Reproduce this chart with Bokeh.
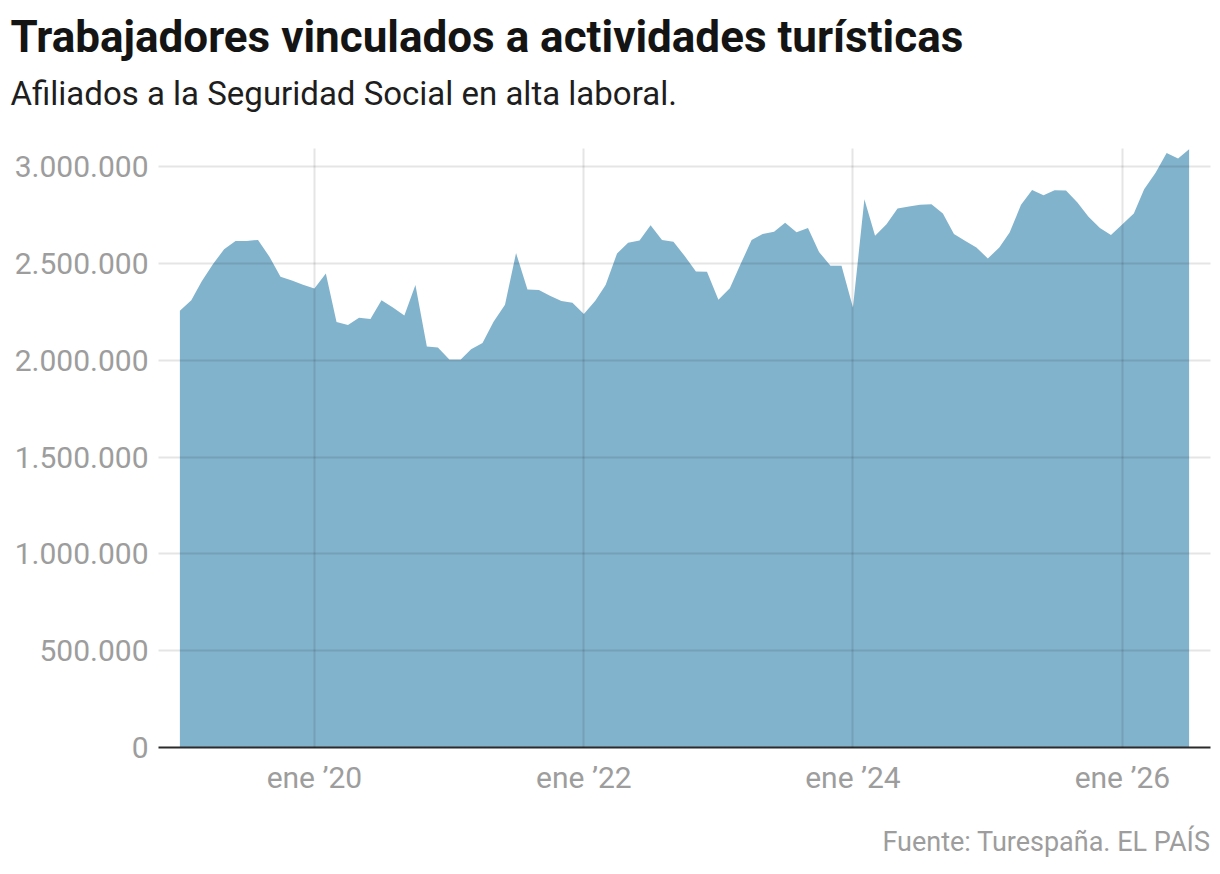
import pandas as pd
from bokeh.plotting import figure
from bokeh.models import ColumnDataSource, FixedTicker, Range1d, Title
from bokeh.embed import file_html
from bokeh.resources import INLINE

titulo = "Trabajadores vinculados a actividades turísticas"
subtitulo = "Afiliados a la Seguridad Social en alta laboral."
fuente = "Fuente: Turespaña. EL PAÍS"

# afiliados en alta laboral, mensual, de enero 2019 a julio 2026
afiliados_2019 = [2255000, 2310000, 2406000, 2496000, 2573000, 2616000,
                  2615000, 2621000, 2534000, 2431000, 2412000, 2389000]
afiliados_2020 = [2370000, 2448000, 2197000, 2182000, 2219000, 2212000,
                  2310000, 2272000, 2231000, 2388000, 2070000, 2065000]
afiliados_2021 = [2004000, 2003000, 2056000, 2089000, 2199000, 2286000,
                  2553000, 2365000, 2362000, 2333000, 2305000, 2297000]
afiliados_2022 = [2238000, 2307000, 2388000, 2551000, 2606000, 2618000,
                  2697000, 2621000, 2612000, 2539000, 2458000, 2456000]
afiliados_2023 = [2312000, 2372000, 2491000, 2620000, 2651000, 2663000,
                  2709000, 2661000, 2682000, 2559000, 2487000, 2487000]
afiliados_2024 = [2272000, 2831000, 2642000, 2702000, 2783000, 2793000,
                  2802000, 2805000, 2757000, 2651000, 2616000, 2582000]
afiliados_2025 = [2525000, 2582000, 2659000, 2802000, 2879000, 2852000,
                  2877000, 2876000, 2814000, 2740000, 2682000, 2646000]
afiliados_2026 = [2702000, 2757000, 2883000, 2968000, 3070000, 3042000, 3089000]

afiliados = (afiliados_2019 + afiliados_2020 + afiliados_2021 + afiliados_2022
             + afiliados_2023 + afiliados_2024 + afiliados_2025 + afiliados_2026)
meses = pd.date_range("2019-01-01", periods=len(afiliados), freq="MS")

y_ticks = [0, 500000, 1000000, 1500000, 2000000, 2500000, 3000000]
x_ticks = ["2020-01-01", "2022-01-01", "2024-01-01", "2026-01-01"]
x_labels = ["ene ’20", "ene ’22", "ene ’24", "ene ’26"]

GRIS = "#9d9d9d"
FUENTE = "Roboto"
W, H = 1212, 866

source = ColumnDataSource(data=dict(mes=meses, afiliados=afiliados))

pad = pd.Timedelta(days=58)
p = figure(width=W, height=H, x_axis_type="datetime", title=None,
           x_range=Range1d(meses[0] - pad, meses[-1] + pad),
           y_range=Range1d(0, 3093000),
           output_backend="svg", toolbar_location=None,
           min_border_left=158, min_border_right=2,
           min_border_top=148, min_border_bottom=119)
p.outline_line_color = None

p.varea(x="mes", y1=0, y2="afiliados", source=source,
        fill_color="#82b3cd", fill_alpha=1.0)

# ejes
x_ms = [pd.Timestamp(t).timestamp() * 1000 for t in x_ticks]
p.xaxis.ticker = FixedTicker(ticks=x_ms)
p.xaxis.major_label_overrides = dict(zip(x_ms, x_labels))
p.yaxis.ticker = FixedTicker(ticks=y_ticks)
p.yaxis.major_label_overrides = {v: f"{v:,}".replace(",", ".") for v in y_ticks}

for ax in (p.xaxis, p.yaxis):
    ax.major_tick_line_color = None
    ax.minor_tick_line_color = None
    ax.major_label_text_font = FUENTE
    ax.major_label_text_font_size = "30px"
    ax.major_label_text_color = GRIS
p.yaxis.axis_line_color = None
p.yaxis.major_label_standoff = 4
p.xaxis.axis_line_color = "#2b2b2b"
p.xaxis.axis_line_width = 2
p.xaxis.major_label_standoff = 6


for g in (p.xgrid, p.ygrid):
    g.grid_line_color = "black"
    g.grid_line_alpha = 0.1
    g.grid_line_width = 2
    g.level = "annotation"


def espacio(alto):
    # título vacío que sólo sirve de separación
    return Title(text=" ", text_font_size="1px", standoff=alto)


# textos: el primero añadido queda más cerca del gráfico
p.add_layout(espacio(31), "above")
p.add_layout(Title(text=subtitulo, align="left", offset=-148, standoff=4,
                   text_font=FUENTE, text_font_size="33px", text_font_style="normal",
                   text_color="#1e1e1e"), "above")
p.add_layout(Title(text=titulo, align="left", offset=-148, standoff=14,
                   text_font=FUENTE, text_font_size="44px", text_font_style="bold",
                   text_color="#141414"), "above")

p.add_layout(espacio(23), "below")
p.add_layout(Title(text=fuente, align="right", standoff=0,
                   text_font=FUENTE, text_font_size="27px", text_font_style="normal",
                   text_color=GRIS), "below")

open("out.html", "w").write(file_html(p, INLINE))
